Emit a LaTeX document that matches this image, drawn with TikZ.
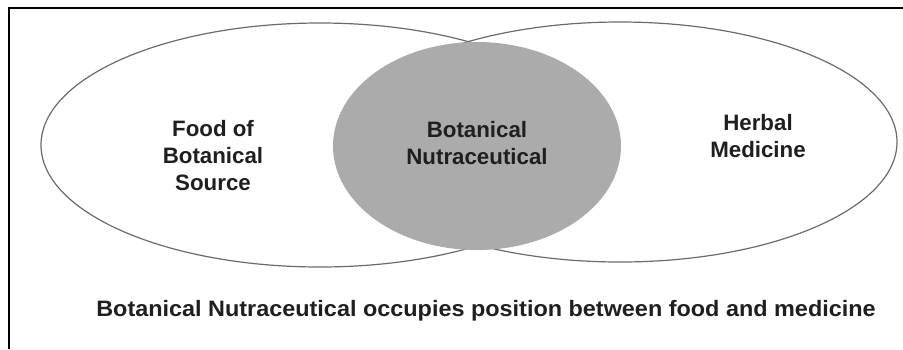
\documentclass[tikz,border=0pt]{standalone}
\usepackage{fontspec}
\setmainfont{Liberation Sans}
\usetikzlibrary{shapes.geometric}
\definecolor{eGray}{gray}{0.42}
\definecolor{fGray}{gray}{0.67}
\definecolor{tBlack}{gray}{0.12}
\tikzset{
    venn/.style={ellipse, draw=eGray, line width=1.2pt, inner sep=0pt},
    core/.style={venn, draw=none, fill=fGray},
    lbl/.style={align=center, text=tBlack, font=\fontsize{22.3}{27}\selectfont\bfseries},
    frame/.style={line width=1.6pt, black}
}

\begin{document}
\begin{tikzpicture}[x=1pt,y=-1pt]
\useasboundingbox (0,0) rectangle (903,349);
\draw[frame] (9,349)--(9,8)--(903,8);
\node[venn,minimum width=558,minimum height=244] (food) at (320,145) {};
\node[venn,minimum width=554,minimum height=240] (herb) at (620,142) {};
\node[core,minimum width=288,minimum height=208] (nutra) at (477,146) {};
\node[lbl] (foodtxt) at (213,156) {Food of\\Botanical\\Source};
\node[lbl] (nutratxt) at (477,143) {Botanical\\Nutraceutical};
\node[lbl] (herbtxt) at (758,136) {Herbal\\Medicine};
\node[lbl] (caption) at (486,311) {\scalebox{1.05}[1]{Botanical Nutraceutical occupies position between food and medicine}};
\end{tikzpicture}
\end{document}
